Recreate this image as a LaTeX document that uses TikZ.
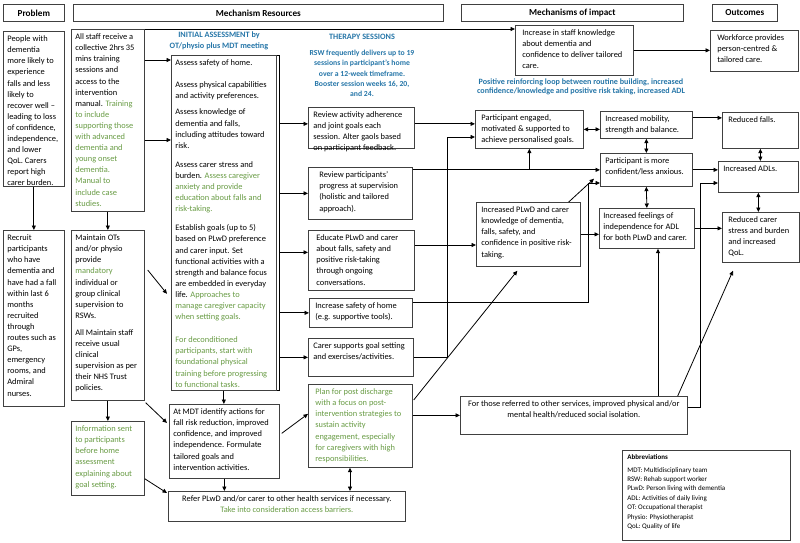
\documentclass[tikz,border=0pt]{standalone}
\usepackage{fontspec}
\setmainfont{Carlito}
\usetikzlibrary{arrows.meta}
\usetikzlibrary{calc}
\usetikzlibrary{positioning}

\definecolor{grn}{RGB}{104,155,68}
\definecolor{blu}{RGB}{38,118,168}

\newcommand{\fbody}{\fontsize{8.4}{11.1}\selectfont}
\newcommand{\fhead}{\fontsize{9.2}{11}\selectfont\bfseries}
\newcommand{\fblue}{\fontsize{7.7}{10.3}\selectfont\bfseries}

% text of a box: [left pad]{width}{height}{text}
\newcommand{\bxL}[4][4]{\parbox[c][#3pt][t]{#2pt}{\vspace*{4.5pt}\leftskip=#1pt\rightskip=0pt plus 1fil\relax #4}}
\newcommand{\bxC}[3]{\parbox[c][#2pt][t]{#1pt}{\vspace*{4.5pt}\centering #3}}

\begin{document}
\begin{tikzpicture}[x=1pt, y=-1pt,
  cbox/.style={draw=black!75, line width=0.7pt, inner sep=0pt, anchor=north west, font=\fbody},
  hdr/.style={draw=black!75, line width=0.7pt, inner sep=0pt, anchor=north west, font=\fhead, minimum height=17pt},
  blu/.style={font=\fblue, text=blu, align=center, inner sep=0pt},
  arr/.style={-{Triangle[length=4.5pt,width=4pt]}, line width=0.8pt},
  darr/.style={{Triangle[length=4.5pt,width=4pt]}-{Triangle[length=4.5pt,width=4pt]}, line width=0.8pt},
  ln/.style={line width=0.8pt}]

  \useasboundingbox (0,0) rectangle (800,542);

  % headers
  \node[hdr, minimum width=61pt] (hprob) at (3,4) {Problem};
  \node[hdr, minimum width=370pt] (hmech) at (73,4) {Mechanism Resources};
  \node[hdr, minimum width=222pt] (himp) at (461,4) {Mechanisms of impact};
  \node[hdr, minimum width=65pt] (hout) at (712,4) {Outcomes};

  % problem
  \node[cbox] (prob) at (3,31) {\bxL{61}{155}{People with\\ dementia\\ more likely to\\ experience\\ falls and less\\ likely to\\ recover well –\\ leading to loss\\ of confidence,\\ independence,\\ and lower\\ QoL. Carers\\ report high\\ carer burden.}};
  \node[cbox] (recruit) at (3,230) {\bxL{61}{176}{Recruit\\ participants\\ who have\\ dementia and\\ have had a fall\\ within last 6\\ months\\ recruited\\ through\\ routes such as\\ GPs,\\ emergency\\ rooms, and\\ Admiral\\ nurses.}};

  % staff and supervision
  \node[cbox] (staff) at (71,29) {\bxL{73}{182}{All staff receive a\\ collective 2hrs 35\\ mins training\\ sessions and\\ access to the\\ intervention\\ manual. \color{grn}Training\\ to include\\ supporting those\\ with advanced\\ dementia and\\ young onset\\ dementia.\\ Manual to\\ include case\\ studies.}};
  \node[cbox] (maintain) at (71,230) {\bxL{73}{170}{Maintain OTs\\ and/or physio\\ provide\\ {\color{grn}mandatory}\\ individual or\\ group clinical\\ supervision to\\ RSWs.\\[6pt] All Maintain staff\\ receive usual\\ clinical\\ supervision as per\\ their NHS Trust\\ policies.}};
  \node[cbox, text=grn] (info) at (71,421) {\bxL{73}{74}{Information sent\\ to participants\\ before home\\ assessment\\ explaining about\\ goal setting.}};

  % initial assessment
  \node[blu, font=\fontsize{8.2}{11}\selectfont\bfseries] (inihd) at (219,41) {INITIAL ASSESSMENT by\\OT/physio plus MDT meeting};
  \node[cbox] (assess) at (171,55) {\bxL{105}{335}{Assess safety of home.\\[11pt] Assess physical capabilities\\ and activity preferences.\\[5pt] Assess knowledge of\\ dementia and falls,\\ including attitudes toward\\ risk.\\[8pt] Assess carer stress and\\ burden. \color{grn}Assess caregiver\\ anxiety and provide\\ education about falls and\\ risk-taking.\\[8pt] \color{black}Establish goals (up to 5)\\ based on PLwD preference\\ and carer input. Set\\ functional activities with a\\ strength and balance focus\\ are embedded in everyday\\ life. \color{grn}Approaches to\\ manage caregiver capacity\\ when setting goals.\\[12pt] For deconditioned\\ participants, start with\\ foundational physical\\ training before progressing\\ to functional tasks.}};
  \node[cbox] (mdt) at (169,404) {\bxL{110}{74}{At MDT identify actions for\\ fall risk reduction, improved\\ confidence, and improved\\ independence. Formulate\\ tailored goals and\\ intervention activities.}};
  \node[cbox] (refer) at (168,491) {\bxC{237}{30}{Refer PLwD and/or carer to other health services if necessary.\\ \color{grn}Take into consideration access barriers.}};

  % therapy sessions
  \node[blu, font=\fontsize{8.2}{10.5}\selectfont\bfseries] (thhd) at (362,37) {THERAPY SESSIONS};
  \node[blu, below=10pt of thhd] (thtx) {RSW frequently delivers up to 19\\ sessions in participant's home\\ over a 12-week timeframe.\\ Booster session weeks 16, 20,\\ and 24.};
  \node[cbox] (rev) at (308,107) {\bxL[5]{106}{41}{Review activity adherence\\ and joint goals each\\ session. Alter gaols based\\ on participant feedback.}};
  \node[cbox] (revp) at (308,167) {\bxL[11]{104}{52}{Review participants'\\ progress at supervision\\ (holistic and tailored\\ approach).}};
  \node[cbox] (edu) at (308,230) {\bxL[8]{106}{60}{Educate PLwD and carer\\ about falls, safety and\\ positive risk-taking\\ through ongoing\\ conversations.}};
  \node[cbox] (safe) at (309,298) {\bxL[6]{103}{29}{Increase safety of home\\ (e.g. supportive tools).}};
  \node[cbox] (carer) at (308,338) {\bxL[5]{105}{38}{Carer supports goal setting\\ and exercises/activities.}};
  \node[cbox, text=grn] (plan) at (308,384) {\bxL[7]{104}{83}{Plan for post discharge\\ with a focus on post-\\ intervention strategies to\\ sustain activity\\ engagement, especially\\ for caregivers with high\\ responsibilities.}};

  % mechanisms of impact
  \node[cbox] (staffK) at (515,25) {\bxL[7]{118}{50}{Increase in staff knowledge\\ about dementia and\\ confidence to deliver tailored\\ care.}};
  \node[blu, font=\fontsize{8.1}{9.6}\selectfont\bfseries] (loop) at (581,87) {Positive reinforcing loop between routine building, increased\\ confidence/knowledge and positive risk taking, increased ADL};
  \node[cbox] (eng) at (475,110) {\bxL[6]{108}{38}{Participant engaged,\\ motivated \& supported to\\ achieve personalised goals.}};
  \node[cbox] (mob) at (600,111) {\bxL[5]{92}{27}{Increased mobility,\\ strength and balance.}};
  \node[cbox] (conf) at (600,153) {\bxL[5]{92}{33}{Participant is more\\ confident/less anxious.}};
  \node[cbox] (know) at (476,202) {\bxL[5]{104}{64}{Increased PLwD and carer\\ knowledge of dementia,\\ falls, safety, and\\ confidence in positive risk-\\ taking.}};
  \node[cbox] (feel) at (599,208) {\bxL[4]{95}{40}{Increased feelings of\\ independence for ADL\\ for both PLwD and carer.}};
  \node[cbox] (forthose) at (460,396) {\bxC{227}{38}{For those referred to other services, improved physical and/or\\ mental health/reduced social isolation.}};

  % outcomes
  \node[cbox] (work) at (710,30) {\bxL[7]{88}{41}{Workforce provides\\ person-centred \&\\ tailored care.}};
  \node[cbox] (falls) at (722,112) {\bxL[6]{76}{36}{Reduced falls.}};
  \node[cbox] (adl) at (718,161) {\bxL[5]{80}{31}{Increased ADLs.}};
  \node[cbox] (stress) at (722,212) {\bxL[6]{77}{50}{Reduced carer\\ stress and burden\\ and increased\\ QoL.}};

  % abbreviations
  \node[cbox, font=\fontsize{7}{9.4}\selectfont] (abbr) at (622,450) {\bxL[5]{168}{90}{\textbf{Abbreviations}\\[3pt] MDT: Multidisciplinary team\\ RSW: Rehab support worker\\ PLwD: Person living with dementia\\ ADL: Activities of daily living\\ OT: Occupational therapist\\ Physio: Physiotherapist\\ QoL: Quality of life}};

  % junction points
  \coordinate (br) at ($(assess.north east)+(3,0)$);
  \coordinate (sA) at ($(staff.north east)+(0,31)$);
  \coordinate (sB) at ($(staff.north east)+(0,111)$);
  \coordinate (rA) at ($(rev.east)+(0,-4)$);
  \coordinate (eA) at ($(edu.north east)+(0,15)$);
  \coordinate (eB) at ($(edu.west)+(0,-8)$);
  \coordinate (sS) at ($(safe.north east)+(0,4)$);
  \coordinate (fA) at ($(forthose.east)+(0,-8)$);
  \coordinate (jA) at (447,137);
  \coordinate (jC) at (588,183);
  \coordinate (jD) at (658,300);
  \coordinate (jE) at (700,183);
  \coordinate (jP) at (350,450);

  % left side
  \draw[arr] (prob.south) -- (recruit.north);
  \draw[arr] (staff.south) -- (maintain.north);
  \draw[arr] (maintain.south) -- (info.north);
  \draw[arr] (staff.north east) -- (staff.north east -| staffK.west);
  \draw[arr] (sA) -- (sA -| assess.west);
  \draw[arr] (sB) -- (sB -| assess.west);
  \draw[arr] ($(maintain.north east)+(3,40)$) -- ($(assess.west)+(-4,71)$);
  \draw[arr] ($(maintain.south east)+(1,2)$) -- ($(mdt.north west)+(-2,19)$);
  \draw[arr] ($(info.south east)+(0,-17)$) -- ($(refer.north west)+(-1,2)$);
  \draw[arr] (assess.south) -- (assess.south |- mdt.north);
  \draw[arr] (mdt.south) -- (mdt.south |- refer.north);
  \draw[arr] ($(mdt.east)+(2,-8)$) -- ($(plan.west)+(0,-12)$);
  \draw[darr] (plan.south -| jP) -- (jP |- refer.north);

  % bracket to therapy sessions
  \draw[ln] (assess.north east) -- (br) |- (assess.south east);
  \draw[arr] (br |- rA) -- (rA -| rev.west);
  \draw[arr] (br |- revp.west) -- (revp.west);
  \draw[arr] (br |- eB) -- (eB);
  \draw[arr] (br |- safe.west) -- (safe.west);
  \draw[arr] (br |- carer.west) -- (carer.west);

  % therapy to impact
  \draw[arr] (rA) -- (rA -| eng.west);
  \draw[arr] (carer.east) -| (jA) -- (jA -| eng.west);
  \draw[arr] (revp.east |- conf.west) -- (conf.west);
  \draw[arr] (eng.south |- conf.west) -- (eng.south);
  \draw[arr] (eA) -- (eA -| know.west);
  \draw[arr] (sS) -| (jC) -- (jC -| conf.west);
  \draw[arr] ($(plan.north east)+(1,16)$) -- ($(know.south)+(-11,4)$);
  \draw[arr] (plan.east |- forthose.west) -- (forthose.west);

  % impact to outcomes
  \draw[arr] (staffK.east) -- (staffK.east -| work.west);
  \draw[darr] (eng.east) -- (eng.east -| mob.west);
  \draw[arr] ([yshift=7pt]mob.east) -- ([yshift=7pt]mob.east -| falls.west);
  \draw[darr] (mob.south) -- (conf.north);
  \draw[darr] (conf.south) -- (feel.north);
  \draw[darr] (falls.south) -- (falls.south |- adl.north);
  \draw[darr] (adl.south) -- (adl.south |- stress.north);
  \draw[arr] (conf.east) -- (conf.east -| adl.west);
  \draw[arr] (feel.east) -- (feel.east -| stress.west);
  \draw[arr] (know.east) -- (know.east -| feel.west);
  \draw[arr] ($(know.north east)+(-12,0)$) -- ($(conf.south west)+(-6,-8)$);
  \draw[arr] (forthose.north -| jD) -- (jD |- feel.south);
  \draw[arr] ($(forthose.north east)+(-10,0)$) -- ($(stress.south west)+(11,8)$);
  \draw[arr] (fA) -| (jE) -- (jE -| adl.west);
\end{tikzpicture}
\end{document}
